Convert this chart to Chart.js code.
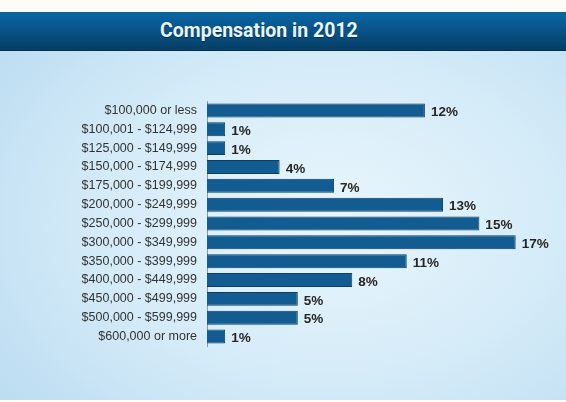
<!DOCTYPE html>
<html>
<head>
<meta charset="utf-8">
<script src="https://cdn.jsdelivr.net/npm/chart.js@4"></script>
<style>
  html, body { margin: 0; padding: 0; }
  body { width: 566px; height: 402px; overflow: hidden; background: #fdfcf8; position: relative; }
  #bg {
    position: absolute; left: 0; top: 50px; width: 566px; height: 350px;
    background: radial-gradient(ellipse 420px 300px at 330px 170px, #e9f6fc 0%, #d4ebf8 55%, #bbdcf1 100%);
  }
  #header {
    position: absolute; left: 0; top: 12px; width: 566px; height: 38px;
    background: linear-gradient(#0a67a6, #063e66);
    border-bottom: 1px solid #04304f;
  }
  #title {
    position: absolute; left: 160px; top: 0;
    color: #eaf5fb; font: bold 19.5px Roboto, "Liberation Sans", sans-serif;
    line-height: 38px;
    text-shadow: 0 1px 1px rgba(0,0,0,0.4); white-space: nowrap;
  }
  #wrap { position: absolute; left: 0; top: 0; width: 566px; height: 402px; }
</style>
</head>
<body>
<div id="bg"></div>
<div id="header"><span id="title">Compensation in 2012</span></div>
<div id="wrap"><canvas id="chart"></canvas></div>
<script>
const categories = [
  '$100,000 or less',
  '$100,001 - $124,999',
  '$125,000 - $149,999',
  '$150,000 - $174,999',
  '$175,000 - $199,999',
  '$200,000 - $249,999',
  '$250,000 - $299,999',
  '$300,000 - $349,999',
  '$350,000 - $399,999',
  '$400,000 - $449,999',
  '$450,000 - $499,999',
  '$500,000 - $599,999',
  '$600,000 or more'
];
const percents = [12, 1, 1, 4, 7, 13, 15, 17, 11, 8, 5, 5, 1];

// draw the "12%" style labels at the end of each bar
const valueLabels = {
  id: 'valueLabels',
  afterDatasetsDraw(chart) {
    const ctx = chart.ctx;
    const meta = chart.getDatasetMeta(0);
    ctx.save();
    ctx.font = 'bold 13.5px "Liberation Sans Narrow", "Liberation Sans", sans-serif';
    ctx.fillStyle = '#262626';
    ctx.textBaseline = 'middle';
    meta.data.forEach((bar, i) => {
      ctx.fillText(percents[i] + '%', bar.x + 6, bar.y + 2);
    });
    ctx.restore();
  }
};

const ctx = document.getElementById('chart').getContext('2d');
new Chart(ctx, {
  type: 'bar',
  data: {
    labels: categories,
    datasets: [{
      data: percents,
      backgroundColor: '#135c91',
      borderColor: '#0c3d63',
      borderWidth: 1,
      borderSkipped: 'left',
      categoryPercentage: 1,
      barPercentage: 0.74
    }]
  },
  options: {
    indexAxis: 'y',
    responsive: true,
    maintainAspectRatio: false,
    animation: false,
    layout: { padding: { top: 101, bottom: 56, left: 0, right: 14 } },
    plugins: { legend: { display: false }, tooltip: { enabled: false } },
    scales: {
      x: {
        min: 0, max: 19,
        display: false
      },
      y: {
        afterFit: (scale) => { scale.width = 207; },
        grid: { display: false, drawTicks: false },
        border: { display: true, color: '#8a9aa6', width: 1 },
        ticks: {
          padding: 10,
          color: '#333',
          font: { family: '"Liberation Sans Narrow", "Liberation Sans", sans-serif', size: 12.5 }
        }
      }
    }
  },
  plugins: [valueLabels]
});
</script>
</body>
</html>
